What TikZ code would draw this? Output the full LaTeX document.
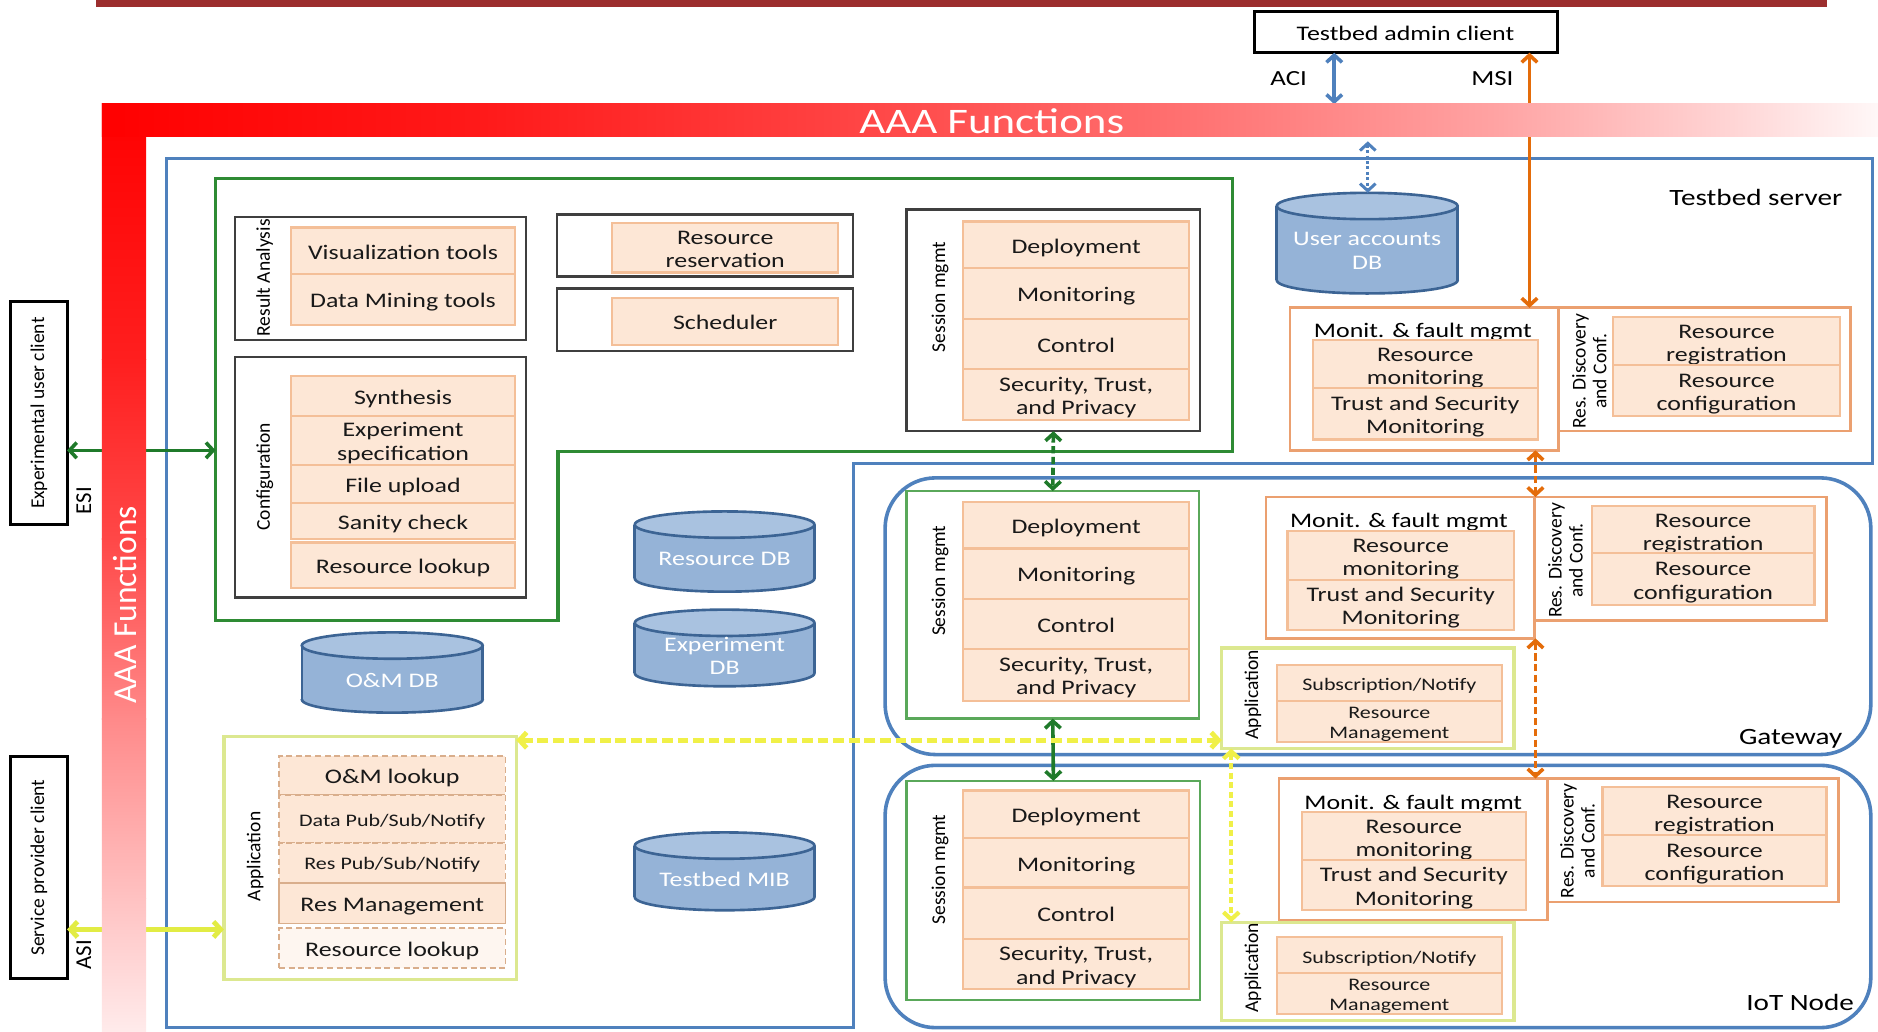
\documentclass[tikz,border=0pt]{standalone}
\usepackage{fontspec}
\setmainfont{Carlito}[FakeStretch=1.25]
\newfontfamily\rotfont{Carlito}
\usetikzlibrary{arrows.meta}
\definecolor{peachfill}{HTML}{FDE7D6}
\definecolor{peachline}{HTML}{F4BF98}
\definecolor{dashline}{HTML}{D9AE8C}
\definecolor{lookupfill}{HTML}{FEF6F0}
\definecolor{grn}{HTML}{2E8B34}
\definecolor{grnthin}{HTML}{5AA85A}
\definecolor{grnarrow}{HTML}{1F7A2A}
\definecolor{blu}{HTML}{4F81BD}
\definecolor{dbfill}{HTML}{95B3D7}
\definecolor{dbtop}{HTML}{A9C2E0}
\definecolor{dbline}{HTML}{3C6494}
\definecolor{orng}{HTML}{E46C0A}
\definecolor{orngbox}{HTML}{EBA070}
\definecolor{appline}{HTML}{DCE890}
\definecolor{yel}{HTML}{F0F048}
\definecolor{asicol}{HTML}{E2EC44}
\definecolor{darkred}{HTML}{9C2E2E}
\definecolor{boxgray}{HTML}{3F3F3F}
\newcommand\fmain{\fontsize{17.3}{19.5}\selectfont}
\newcommand\fsmall{\fontsize{14.7}{16.5}\selectfont}
\newcommand\flabel{\fontsize{19.5}{22}\selectfont}
\newcommand\frot{\rotfont\fontsize{16.3}{17.5}\selectfont}
% \cellat[style]{name}{x1}{y1}{x2}{y2}{text}
\newcommand\cellat[7][]{%
  \pgfmathsetmacro\cellw{abs(#5-#3)}%
  \pgfmathsetmacro\cellh{abs(#6-#4)}%
  \node[inner sep=0pt, outer sep=0pt, #1, minimum width=\cellw pt, minimum height=\cellh pt] (#2) at ({(#3+#5)/2},{(#4+#6)/2}) {\rule{0pt}{1.02em}#7\rule[-0.22em]{0pt}{0pt}};%
}
\newcommand\dbcyl[6]{%
  \pgfmathsetmacro\dbcx{(#2+#4)/2}%
  \pgfmathsetmacro\dbrx{(#4-#2)/2}%
  \pgfmathsetmacro\dbyt{#3+11}%
  \pgfmathsetmacro\dbyb{#5-11}%
  \fill[dbfill] (#2,\dbyt) rectangle (#4,\dbyb);
  \fill[dbfill] (\dbcx,\dbyb) ellipse [x radius=\dbrx, y radius=11];
  \begin{scope}
    \clip (#2-5,\dbyb) rectangle (#4+5,#5+5);
    \draw[dbline,line width=2.2pt] (\dbcx,\dbyb) ellipse [x radius=\dbrx, y radius=11];
  \end{scope}
  \draw[dbline,line width=2.2pt] (#2,\dbyt) -- (#2,\dbyb) (#4,\dbyt) -- (#4,\dbyb);
  \filldraw[fill=dbtop,draw=dbline,line width=2.2pt] (\dbcx,\dbyt) ellipse [x radius=\dbrx, y radius=11];
  \node[dbtext] (#1) at (\dbcx,{(\dbyt+#5)/2+1}) {#6};
}
\begin{document}
\begin{tikzpicture}[x=1pt,y=-1pt,
  cell/.style={draw=peachline, fill=peachfill, line width=1.8pt, align=center, font=\fmain, text=black!90},
  scell/.style={cell, font=\fsmall},
  dcell/.style={cell, draw=dashline, dash pattern=on 5pt off 3pt, line width=1.5pt, font=\fsmall},
  blackframe/.style={draw=boxgray, line width=2pt},
  sessgreen/.style={draw=grnthin, line width=2pt},
  orbox/.style={draw=orngbox, line width=2.2pt},
  appbox/.style={draw=appline, line width=2.8pt},
  clientbox/.style={draw=black, line width=2.5pt},
  nodebox/.style={draw=blu, line width=3pt, rounded corners=42pt},
  rotlabel/.style={rotate=90, font=\frot, align=center, inner sep=0pt},
  plainlabel/.style={font=\flabel, inner sep=0pt},
  titlelabel/.style={font=\fmain, inner sep=0pt},
  dbtext/.style={text=white, font=\fmain, align=center, inner sep=0pt},
  dbl/.style={{Straight Barb[length=6pt,width=13pt]}-{Straight Barb[length=6pt,width=13pt]}},
]
\fill[white] (0,0) rectangle (1568,861);
\useasboundingbox (0,0) rectangle (1568,861);
\fill[darkred] (80,0) rectangle (1525,5.5);

% clients
\cellat[clientbox, font=\fmain]{admin}{1047}{10}{1300}{44}{Testbed admin client}
\cellat[clientbox]{euc}{9}{252}{56}{438}{}
\node[rotlabel] (euctxt) at (euc.center) {Experimental user client};
\cellat[clientbox]{spc}{9}{632}{56}{817}{}
\node[rotlabel] (spctxt) at (spc.center) {Service provider client};
\node[rotlabel, font=\rotfont\fontsize{19}{20}\selectfont] (esil) at (70,418) {ESI};
\node[rotlabel, font=\rotfont\fontsize{19}{20}\selectfont] (asil) at (70,797) {ASI};
\node[font=\fontsize{18}{20}\selectfont, inner sep=0pt] (acil) at (1076,66) {ACI};
\node[font=\fontsize{18}{20}\selectfont, inner sep=0pt] (msil) at (1246,66) {MSI};

% testbed server outline
\draw[blu, line width=2.5pt] (139,132) -- (1563,132) -- (1563,387) -- (713,387) -- (713,858) -- (139,858) -- cycle;
\node[plainlabel] (srvl) at (1466,165) {Testbed server};

% experiment green group
\draw[grn, line width=3pt] (180,149) -- (1029,149) -- (1029,377) -- (466,377) -- (466,518) -- (180,518) -- cycle;
\coordinate (gbL) at (180,376);

% result analysis
\cellat[blackframe]{ra}{196}{181}{439}{284}{}
\node[rotlabel] (ratxt) at (221,232) {Result Analysis};
\cellat[cell]{vis}{243}{190}{430}{229}{Visualization tools}
\cellat[cell]{dmt}{243}{229}{430}{271}{Data Mining tools}

% configuration
\cellat[blackframe]{conf}{196}{298}{439}{499}{}
\node[rotlabel] (conftxt) at (221,398) {Configuration};
\cellat[cell]{syn}{243}{314}{430}{347}{Synthesis}
\cellat[cell]{exs}{243}{347}{430}{388}{Experiment\\specification}
\cellat[cell]{fup}{243}{388}{430}{420}{File upload}
\cellat[cell]{san}{243}{420}{430}{450}{Sanity check}
\cellat[cell]{rlk}{243}{453}{430}{491}{Resource lookup}

% reservation / scheduler
\cellat[blackframe]{resf}{465}{179}{712}{231}{}
\cellat[cell]{resv}{511}{187}{700}{227}{Resource\\reservation}
\cellat[blackframe]{schf}{465}{241}{712}{293}{}
\cellat[cell]{sch}{511}{249}{700}{288}{Scheduler}

% server session mgmt
\cellat[blackframe]{ssess}{757}{175}{1002}{360}{}
\node[rotlabel] (ssesst) at (785,248) {Session mgmt};
\cellat[cell]{sdep}{804}{185}{993}{224}{Deployment}
\cellat[cell]{smon}{804}{224}{993}{266}{Monitoring}
\cellat[cell]{sctl}{804}{266}{993}{308}{Control}
\cellat[cell]{ssec}{804}{308}{993}{351}{Security, Trust,\\and Privacy}

% server monit & res disc
\cellat[orbox]{smonit}{1077}{257}{1301}{376}{}
\node[titlelabel] (smonitt) at (1188,277) {Monit. \& fault mgmt};
\cellat[cell]{srm}{1096}{285}{1284}{324}{Resource\\monitoring}
\cellat[cell]{stsm}{1096}{324}{1284}{367}{Trust and Security\\Monitoring}
\cellat[orbox]{srd}{1301}{257}{1545}{360}{}
\node[rotlabel] (srdt) at (1327,310) {Res. Discovery\\and Conf.};
\cellat[cell]{sreg}{1347}{266}{1536}{305}{Resource\\registration}
\cellat[cell]{scfg}{1347}{305}{1536}{347}{Resource\\configuration}

% databases
\dbcyl{udb}{1066}{161}{1217}{245}{User accounts\\DB}
\dbcyl{rdb}{530}{427}{680}{494}{Resource DB}
\dbcyl{edb}{530}{509}{680}{573}{Experiment\\DB}
\dbcyl{omdb}{252}{528}{403}{595}{O\&M DB}
\dbcyl{mib}{530}{695}{680}{760}{Testbed MIB}
\coordinate (udbtop) at (1142,161);
\coordinate (udbA) at (1142,118);

% server application
\cellat[appbox]{sapp}{187}{615}{431}{818}{}
\node[rotlabel] (sappt) at (213,715) {Application};
\cellat[dcell, font=\fmain]{oml}{233}{631}{422}{664}{O\&M lookup}
\cellat[dcell]{dps}{233}{664}{422}{704}{Data Pub/Sub/Notify}
\cellat[dcell]{rps}{233}{704}{422}{737}{Res Pub/Sub/Notify}
\cellat[cell, draw=dashline, line width=1.5pt]{rmg}{233}{737}{422}{771}{Res Management}
\cellat[dcell, font=\fmain, fill=lookupfill]{rlk2}{233}{775}{422}{808}{Resource lookup}

% gateway
\cellat[nodebox]{gw}{739}{399}{1562}{630}{}
\node[plainlabel] (gwl) at (1495,617) {Gateway};
\cellat[sessgreen]{gsess}{757}{410}{1001}{600}{}
\node[rotlabel] (gsesst) at (785,485) {Session mgmt};
\cellat[cell]{gdep}{804}{419}{993}{458}{Deployment}
\cellat[cell]{gmon}{804}{458}{993}{500}{Monitoring}
\cellat[cell]{gctl}{804}{500}{993}{542}{Control}
\cellat[cell]{gsec}{804}{542}{993}{585}{Security, Trust,\\and Privacy}
\cellat[orbox]{gmonit}{1057}{415}{1281}{533}{}
\node[titlelabel] (gmonitt) at (1168,436) {Monit. \& fault mgmt};
\cellat[cell]{grm}{1075}{444}{1264}{484}{Resource\\monitoring}
\cellat[cell]{gtsm}{1075}{484}{1264}{526}{Trust and Security\\Monitoring}
\cellat[orbox]{grd}{1281}{415}{1525}{518}{}
\node[rotlabel] (grdt) at (1307,468) {Res. Discovery\\and Conf.};
\cellat[cell]{greg}{1329}{424}{1515}{462}{Resource\\registration}
\cellat[cell]{gcfg}{1329}{462}{1515}{505}{Resource\\configuration}
\cellat[appbox]{gapp}{1020}{541}{1264}{625}{}
\node[rotlabel] (gappt) at (1046,580) {Application};
\cellat[scell]{gsub}{1066}{555}{1254}{587}{Subscription/Notify}
\cellat[scell]{grmg}{1066}{587}{1254}{618}{Resource\\Management}

% iot node
\cellat[nodebox]{iot}{739}{639}{1562}{858}{}
\node[plainlabel] (iotl) at (1503,837) {IoT Node};
\cellat[sessgreen]{isess}{757}{652}{1002}{835}{}
\node[rotlabel] (isesst) at (785,726) {Session mgmt};
\cellat[cell]{idep}{804}{660}{993}{700}{Deployment}
\cellat[cell]{imon}{804}{700}{993}{741}{Monitoring}
\cellat[cell]{ictl}{804}{741}{993}{784}{Control}
\cellat[cell]{isec}{804}{784}{993}{826}{Security, Trust,\\and Privacy}
\cellat[orbox]{imonit}{1068}{650}{1292}{768}{}
\node[titlelabel] (imonitt) at (1180,671) {Monit. \& fault mgmt};
\cellat[cell]{irm}{1087}{679}{1274}{718}{Resource\\monitoring}
\cellat[cell]{itsm}{1087}{718}{1274}{760}{Trust and Security\\Monitoring}
\cellat[orbox]{ird}{1292}{650}{1535}{753}{}
\node[rotlabel] (irdt) at (1317,702) {Res. Discovery\\and Conf.};
\cellat[cell]{ireg}{1338}{658}{1525}{697}{Resource\\registration}
\cellat[cell]{icfg}{1338}{697}{1525}{740}{Resource\\configuration}
\cellat[appbox]{iapp}{1020}{770}{1264}{852}{}
\node[rotlabel] (iappt) at (1046,808) {Application};
\cellat[scell]{isub}{1066}{782}{1254}{815}{Subscription/Notify}
\cellat[scell]{irmg}{1066}{815}{1254}{844}{Resource\\Management}

% connectors
\coordinate (aciB) at (1114,87);
\coordinate (msix) at (1277,0);
\coordinate (orx) at (1282,0);
\coordinate (asiy) at (0,776);
\coordinate (yely) at (0,618);
\coordinate (yelx) at (1028,0);
\draw[blu, line width=3pt, dbl] (admin.south -| aciB) -- (aciB);
\draw[orng, line width=3pt, dbl] (admin.south -| msix) -- (smonit.north -| msix);
\draw[blu, line width=2.5pt, dotted, dbl] (udbA) -- (udbtop);
\draw[orng, line width=3pt, dash pattern=on 6pt off 3pt, dbl] (smonit.south -| orx) -- (gmonit.north -| orx);
\draw[orng, line width=3pt, dash pattern=on 6pt off 3pt, dbl] (gmonit.south -| orx) -- (imonit.north -| orx);
\draw[grnarrow, line width=3pt, dash pattern=on 6pt off 3pt, dbl] (ssess.south) -- (gsess.north);
\draw[grnarrow, line width=3pt, dbl] (gsess.south) -- (isess.north);
\draw[yel, line width=4pt, dash pattern=on 9pt off 4pt, dbl] (sapp.east |- yely) -- (gapp.west |- yely);
\draw[yel, line width=3.5pt, dash pattern=on 5pt off 3pt, dbl] (gapp.south -| yelx) -- (iapp.north -| yelx);
\draw[grnarrow, line width=3pt, dbl] (euc.east |- gbL) -- (gbL);
\draw[asicol, line width=4pt, dbl] (spc.east |- asiy) -- (sapp.west |- asiy);

% AAA band
\shade[top color=red!100!white, bottom color=red!88!white] (85,86) rectangle (122,300.5);
\shade[top color=red!88!white, bottom color=red!72!white] (85,300) rectangle (122,450.5);
\shade[top color=red!72!white, bottom color=red!46!white] (85,450) rectangle (122,600.5);
\shade[top color=red!46!white, bottom color=red!24!white] (85,600) rectangle (122,750.5);
\shade[top color=red!24!white, bottom color=red!8!white] (85,750) rectangle (122,861);
\shade[left color=red!100!white, right color=red!90!white] (85,86) rectangle (400.5,114);
\shade[left color=red!90!white, right color=red!74!white] (400,86) rectangle (700.5,114);
\shade[left color=red!74!white, right color=red!55!white] (700,86) rectangle (1000.5,114);
\shade[left color=red!55!white, right color=red!36!white] (1000,86) rectangle (1250.5,114);
\shade[left color=red!36!white, right color=red!16!white] (1250,86) rectangle (1450.5,114);
\shade[left color=red!16!white, right color=red!3!white] (1450,86) rectangle (1568,114);
\node[text=white, font=\fontsize{30}{32}\selectfont, inner sep=0pt] (aaah) at (828,101) {AAA Functions};
\node[text=white, rotate=90, font=\rotfont\fontsize{28}{30}\selectfont, inner sep=0pt] (aaav) at (104,505) {AAA Functions};
\end{tikzpicture}
\end{document}
